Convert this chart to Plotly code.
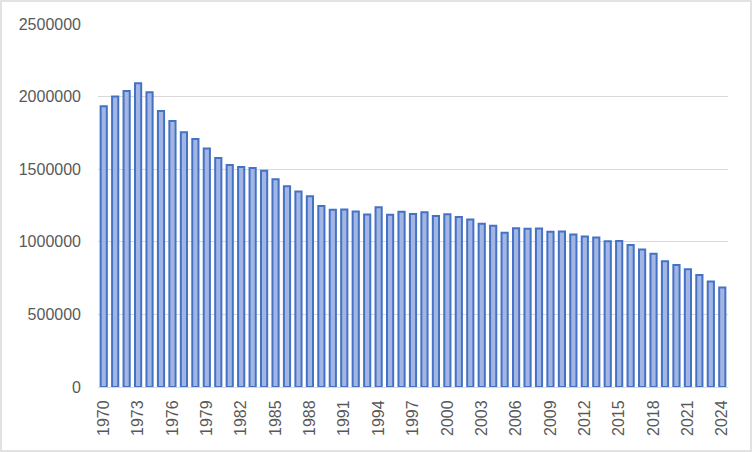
import plotly.graph_objects as go

years = list(range(1970, 2025))
births = [1934239, 2000973, 2038682, 2091983, 2029989, 1901440, 1832617, 1755100, 1708643, 1642580,
          1576889, 1529455, 1515392, 1508687, 1489780, 1431577, 1382946, 1346658, 1314006, 1246802,
          1221585, 1223245, 1208989, 1188282, 1238328, 1187064, 1206555, 1191665, 1203147, 1177669,
          1190547, 1170662, 1153855, 1123610, 1110721, 1062530, 1092674, 1089818, 1091156, 1070035,
          1071304, 1050806, 1037231, 1029816, 1003539, 1005721, 977242, 946146, 918400, 865239,
          840835, 811622, 770759, 727288, 686061]
tick_years = [str(y) for y in range(1970, 2025, 3)]
y_ticks = [0, 500000, 1000000, 1500000, 2000000, 2500000]

x = [str(y) for y in years]

fig = go.Figure(go.Bar(
    x=x, y=births,
    marker=dict(color="#A3B6E3", line=dict(color="#4472C4", width=2)),
))

L, R, T, B = 98, 24, 24, 65
W, H = 752, 452
pw, ph = W - L - R, H - T - B

fig.update_layout(
    width=W, height=H,
    margin=dict(l=L, r=R, t=T, b=B),
    paper_bgcolor="white", plot_bgcolor="white",
    bargap=0.46,
    showlegend=False,
    font=dict(family="Liberation Sans, Arial, sans-serif", size=16, color="#595959"),
    xaxis=dict(
        type="category",
        tickmode="array", tickvals=tick_years, ticktext=tick_years,
        tickangle=-90,
        showgrid=False,
        showline=True, linecolor="#D9D9D9", linewidth=1,
        ticks="",
        ticklabelstandoff=6,
        tickfont=dict(size=16, color="#595959"),
    ),
    yaxis=dict(
        range=[0, 2500000],
        tickmode="array", tickvals=y_ticks, ticktext=[str(v) for v in y_ticks],
        showgrid=True, gridcolor="#D9D9D9", gridwidth=1,
        zeroline=False,
        showline=False,
        ticks="",
        ticklabelstandoff=16,
        tickfont=dict(size=16, color="#595959"),
    ),
    shapes=[dict(
        type="rect", xref="paper", yref="paper",
        x0=-(L - 1) / pw, x1=1 + (R - 1) / pw,
        y0=-(B - 1) / ph, y1=1 + (T - 1) / ph,
        line=dict(color="#D9D9D9", width=1.5), fillcolor="rgba(0,0,0,0)",
        layer="below",
    )],
)

fig.write_html("out.html", config={"displayModeBar": False},
               post_script="document.body.style.margin='0';document.body.style.overflow='hidden';")
